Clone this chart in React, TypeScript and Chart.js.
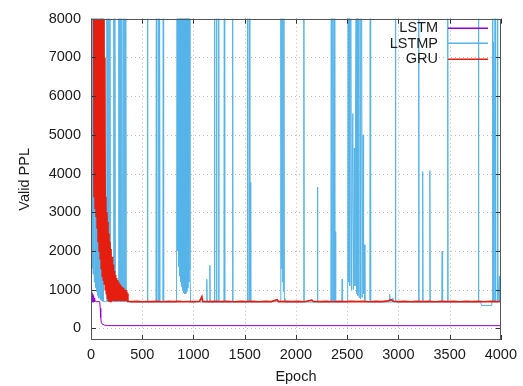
import React, { useEffect, useRef } from "react";
import { Chart, registerables } from "chart.js";

Chart.register(...registerables);

// ---------- data ----------
const FULL = 12000; // spike that leaves the top of the plot (clipped at 8000)
const xTicks = [0, 500, 1000, 1500, 2000, 2500, 3000, 3500, 4000];
const yTicks = [0, 1000, 2000, 3000, 4000, 5000, 6000, 7000, 8000];
const seriesNames = ["LSTM", "LSTMP", "GRU"];
const seriesColors = ["#9400D3", "#56B4E9", "#E51E10"];

// LSTM (epoch, valid PPL)
const lstm: [number, number][] = [
  [0, 1000], [4, 700], [8, 960], [12, 680], [16, 900], [20, 690], [24, 850], [28, 680],
  [32, 780], [36, 690], [40, 720], [50, 690], [85, 690], [90, 520], [95, 280], [100, 160],
  [110, 110], [130, 85], [160, 72], [4000, 70],
];

// GRU: early unstable phase
const gruEarly: [number, number][] = [
  [0, FULL], [25, FULL], [30, 3400], [35, FULL], [40, 3100], [45, FULL], [50, 2900], [55, FULL],
  [60, 2600], [65, FULL], [70, 2250], [75, FULL], [80, 2000], [85, FULL], [90, 1800], [95, FULL],
  [100, 1550], [105, FULL], [110, 1350], [115, FULL], [120, 1250], [125, FULL], [130, 1150],
  [135, 7000], [140, 1000], [145, 3400], [150, 900], [155, 3000], [160, 780], [165, 2750],
  [170, 720], [175, 2450], [180, 710], [185, 2240], [190, 700], [195, 2050], [200, 710],
  [205, 1850], [210, 700], [215, 1650], [220, 705], [225, 1480], [230, 700], [235, 1380],
  [240, 710], [245, 1300], [250, 700], [255, 1250], [260, 705], [265, 1200], [270, 700],
  [275, 1150], [280, 710], [285, 1120], [290, 700], [295, 1080], [300, 705], [305, 1060],
  [310, 700], [315, 1040], [320, 710], [325, 1000], [330, 700], [335, 1000], [340, 705],
  [345, 950], [350, 700], [355, 900],
];
// GRU: converged phase
const gruLate: [number, number][] = [
  [360, 700], [400, 690], [450, 700], [500, 688], [540, 695], [600, 690], [640, 700], [700, 688],
  [760, 696], [800, 690], [860, 700], [900, 688], [960, 694], [1000, 690], [1060, 700], [1082, 820],
  [1090, 695], [1150, 690], [1200, 700], [1260, 690], [1320, 698], [1400, 688], [1460, 700],
  [1520, 690], [1580, 696], [1640, 688], [1700, 700], [1760, 690], [1816, 740], [1830, 692],
  [1900, 700], [1960, 690], [2020, 698], [2080, 688], [2155, 730], [2170, 694], [2240, 690],
  [2300, 700], [2360, 688], [2420, 696], [2480, 690], [2540, 700], [2600, 690], [2660, 698],
  [2720, 688], [2780, 700], [2840, 690], [2900, 710], [2930, 740], [2950, 700], [3000, 690],
  [3060, 698], [3120, 688], [3180, 700], [3240, 690], [3300, 696], [3360, 688], [3420, 700],
  [3480, 690], [3540, 698], [3600, 688], [3660, 700], [3720, 690], [3780, 696], [3840, 688],
  [3900, 700], [3960, 690], [4000, 695],
];

// LSTMP
const LSTMP_BASE = 680;
const lstmpEarly: [number, number][] = [
  [0, 1650], [5, FULL], [10, 1550], [15, FULL], [20, 1400], [25, FULL], [32, 1200], [39, FULL],
  [44, 1050], [48, FULL], [53, 950], [58, FULL], [65, 850], [72, 5500], [78, 780], [87, FULL],
  [92, 740], [97, FULL], [101, 720], [106, FULL], [111, 700], [116, FULL], [122, 690], [140, 700],
  [150, 690], [155, FULL], [160, 700], [164, FULL], [169, 690], [174, FULL], [179, 700], [184, FULL],
  [190, 690], [210, 700], [217, 690], [222, FULL], [227, 700], [232, FULL], [238, 690], [262, 700],
  [267, 690], [271, FULL], [276, 700], [280, FULL], [285, 690], [290, FULL], [295, 700], [300, FULL],
  [308, 690], [314, 700], [319, FULL], [324, 690], [329, FULL], [333, 700], [338, FULL], [345, 690],
  [360, 680],
];
const lstmpBand1: [number, number][] = [
  [835, 680], [840, FULL], [845, 2000], [850, FULL], [855, 1600], [860, FULL], [865, 1350],
  [870, FULL], [875, 1200], [880, FULL], [885, 1080], [890, FULL], [895, 980], [900, FULL],
  [905, 920], [910, FULL], [915, 890], [920, FULL], [925, 900], [930, FULL], [935, 950],
  [940, FULL], [945, 1040], [950, FULL], [955, 1200], [960, FULL], [966, 1500], [972, 680],
];
const lstmpBand2: [number, number][] = [
  [1848, 690], [1852, FULL], [1857, 1550], [1862, FULL], [1867, 1200], [1872, FULL],
  [1877, 950], [1882, FULL], [1887, 790], [1892, 680],
];
const lstmpBand3: [number, number][] = [
  [2505, 690], [2510, FULL], [2515, 1200], [2520, FULL], [2525, 1100], [2535, FULL], [2542, 1000],
  [2555, 5550], [2560, 1000], [2570, 4660], [2576, 1100], [2590, FULL], [2595, 900], [2600, FULL],
  [2605, 850], [2610, FULL], [2616, 800], [2625, FULL], [2631, 760], [2640, FULL], [2646, 800],
  [2655, 5000], [2660, 900], [2667, 2160], [2673, 720], [2680, 690],
];
const lstmpDip: [number, number][] = [
  [3805, 680], [3810, 590], [3905, 590], [3912, 680], [4000, 680],
];
// isolated spikes (epoch, peak)
const lstmpSpikes: [number, number][] = [
  [551, FULL], [638, FULL], [660, FULL], [670, FULL], [705, FULL], [1130, 1270], [1160, 1630],
  [1205, FULL], [1225, FULL], [1246, FULL], [1301, FULL], [1382, FULL], [1527, FULL], [1545, FULL],
  [1555, 3770], [2077, FULL], [2210, 3650], [2345, FULL], [2360, FULL], [2375, FULL], [2386, 2500],
  [2451, 1270], [2725, FULL], [2915, 880], [2945, 780], [2971, FULL], [3198, FULL], [3237, 4050],
  [3307, 4075], [3427, 1990], [3481, FULL], [3781, FULL], [3920, FULL], [3930, 7390], [3945, FULL],
  [3968, FULL], [3985, 1350],
];

// ---------- build tables ----------
const toXY = (arr: [number, number][]) => arr.map(([x, y]) => ({ x, y }));
const lstmpAll: [number, number][] = [
  ...lstmpEarly, ...lstmpBand1, ...lstmpBand2, ...lstmpBand3, ...lstmpDip,
  ...lstmpSpikes.flatMap(([e, p]) => [[e - 4, LSTMP_BASE], [e, p], [e + 4, LSTMP_BASE]] as [number, number][]),
].sort((a, b) => a[0] - b[0]);
const gruAll = [...gruEarly, ...gruLate];

const FONT = '"Liberation Sans", Arial, Helvetica, sans-serif';
const TEXT = "#1a1a1a";

const framePlugin = {
  id: "gnuplotFrame",
  beforeDatasetsDraw(chart: any) {
    const { ctx, chartArea: a, scales } = chart;
    ctx.save();
    ctx.strokeStyle = "rgba(170,170,170,0.8)";
    ctx.lineWidth = 1;
    ctx.setLineDash([1, 3]);
    xTicks.forEach((v) => {
      const px = Math.round(scales.x.getPixelForValue(v)) + 0.5;
      if (px <= a.left + 1 || px >= a.right - 1) return;
      ctx.beginPath(); ctx.moveTo(px, a.top); ctx.lineTo(px, a.bottom); ctx.stroke();
    });
    yTicks.forEach((v) => {
      const py = Math.round(scales.y.getPixelForValue(v)) + 0.5;
      if (py <= a.top + 1 || py >= a.bottom - 1) return;
      ctx.beginPath(); ctx.moveTo(a.left, py); ctx.lineTo(a.right, py); ctx.stroke();
    });
    ctx.restore();
  },
  afterDatasetsDraw(chart: any) {
    const { ctx, chartArea: a, scales } = chart;
    ctx.save();
    ctx.setLineDash([]);
    ctx.strokeStyle = "#333";
    ctx.lineWidth = 1;
    const L = 5;
    xTicks.forEach((v) => {
      const px = Math.round(scales.x.getPixelForValue(v)) + 0.5;
      ctx.beginPath();
      ctx.moveTo(px, a.bottom); ctx.lineTo(px, a.bottom - L);
      ctx.moveTo(px, a.top); ctx.lineTo(px, a.top + L);
      ctx.stroke();
    });
    yTicks.forEach((v) => {
      const py = Math.round(scales.y.getPixelForValue(v)) + 0.5;
      ctx.beginPath();
      ctx.moveTo(a.left, py); ctx.lineTo(a.left + L, py);
      ctx.moveTo(a.right, py); ctx.lineTo(a.right - L, py);
      ctx.stroke();
    });
    ctx.strokeStyle = "#555";
    ctx.strokeRect(Math.round(a.left) + 0.5, Math.round(a.top) + 0.5,
      Math.round(a.right - a.left) - 1, Math.round(a.bottom - a.top) - 1);
    ctx.restore();
  },
  afterDraw(chart: any) {
    const { ctx } = chart;
    ctx.save();
    ctx.setLineDash([]);
    ctx.globalAlpha = 1;
    ctx.font = `14.5px ${FONT}`;
    ctx.textAlign = "right";
    ctx.textBaseline = "middle";
    seriesNames.forEach((name, i) => {
      const y = 27.5 + i * 15.6;
      ctx.fillStyle = TEXT;
      ctx.fillText(name, 438, y + 0.5);
    });
    seriesNames.forEach((_, i) => {
      const y = Math.round(27.5 + i * 15.6);
      ctx.fillStyle = seriesColors[i];
      ctx.fillRect(448, y - 0.5, 40, 1.5);
    });
    ctx.restore();
  },
};

const plainTick = (v: number | string) => String(v);

export default function App() {
  const ref = useRef<HTMLCanvasElement | null>(null);
  useEffect(() => {
    document.body.style.margin = "0";
    Chart.defaults.font.family = FONT;
    const chart = new Chart(ref.current as HTMLCanvasElement, {
      type: "line",
      data: {
        datasets: [
          {
            label: seriesNames[0], data: toXY(lstm), borderColor: seriesColors[0],
            borderWidth: 1, pointRadius: 0, tension: 0, order: 2,
          },
          {
            label: seriesNames[1], data: toXY(lstmpAll), borderColor: seriesColors[1],
            borderWidth: 1, pointRadius: 0, tension: 0, order: 1,
          },
          {
            label: seriesNames[2], data: toXY(gruAll), borderColor: seriesColors[2],
            borderWidth: 1.7, pointRadius: 0, tension: 0, order: 0,
          },
        ],
      },
      options: {
        animation: false,
        responsive: false,
        devicePixelRatio: 1,
        layout: { padding: { top: 14, right: 18, bottom: 0, left: 0 } },
        plugins: { legend: { display: false }, tooltip: { enabled: false } },
        events: [],
        scales: {
          x: {
            type: "linear", min: 0, max: 4000,
            afterBuildTicks: (s: any) => { s.ticks = xTicks.map((v) => ({ value: v })); },
            afterFit: (s: any) => { s.height = 46; },
            ticks: { font: { size: 14.5 }, color: TEXT, padding: 6, maxRotation: 0, autoSkip: false, callback: plainTick },
            grid: { display: false, drawTicks: false },
            border: { display: false },
            title: { display: true, text: "Epoch", font: { size: 14.5 }, color: TEXT, padding: { top: 0, bottom: 0 } },
          },
          y: {
            type: "linear", min: -300, max: 8000,
            afterBuildTicks: (s: any) => { s.ticks = yTicks.map((v) => ({ value: v })); },
            afterFit: (s: any) => { s.width = 91; },
            ticks: { font: { size: 14.5 }, color: TEXT, padding: 10, autoSkip: false, callback: plainTick },
            grid: { display: false, drawTicks: false },
            border: { display: false },
            title: { display: true, text: "Valid PPL", font: { size: 14.5 }, color: TEXT, padding: { top: 16, bottom: 0 } },
          },
        },
      },
      plugins: [framePlugin],
    } as any);
    return () => chart.destroy();
  }, []);
  return (
    <div style={{ width: 523, height: 386 }}>
      <canvas ref={ref} width={523} height={386} />
    </div>
  );
}
